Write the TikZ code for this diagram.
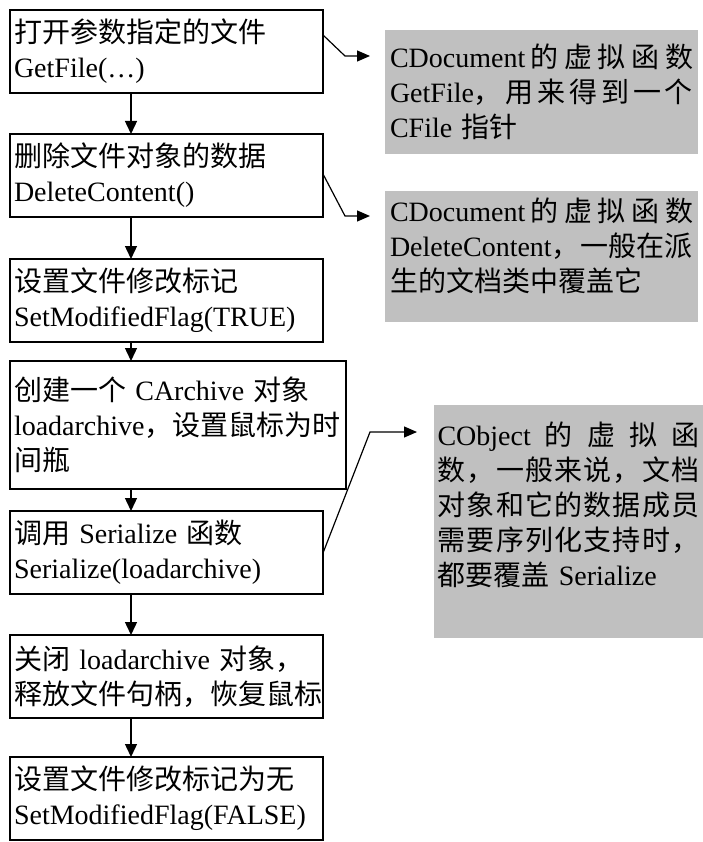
\documentclass[tikz,border=0pt]{standalone}
\usepackage{fontspec}
\setmainfont{Liberation Serif}
\newfontfamily\cjk{Noto Sans CJK SC}
\usepackage{tikz}
\usetikzlibrary{arrows.meta}
\usetikzlibrary{positioning}
\definecolor{notegray}{RGB}{192,192,192}
\tikzstyle{block} = [draw, line width=1.6pt,
	outer sep=0pt,
	minimum width=313pt,
	minimum height=83pt,
	text width=305pt,
	inner xsep=3pt,
	align=left]
\tikzstyle{note} = [fill=notegray,
	anchor=north west,
	outer sep=0pt,
	inner xsep=4pt,
	align=left]
\tikzstyle{arrow} = [-{Triangle[length=13pt,width=12pt]}, line width=1.4pt]
\tikzstyle{link} = [-{Triangle[length=13pt,width=11pt]}, line width=1.2pt]
\newcommand{\zh}[1]{{\cjk #1}}
\newcommand{\spreadline}[2]{\makebox[#1][s]{#2}}

\begin{document}
\begin{tikzpicture}[x=1pt, y=1pt, font=\fontsize{28}{35}\selectfont]
	\useasboundingbox (0,0) rectangle (703,-842);
	% left column
	\node (open) [block, anchor=north west] at (10,-10) {\zh{打开参数指定的文件}\\GetFile(…)};
	\node (delete) [block, below=41pt of open.south west, anchor=north west] {\zh{删除文件对象的数据}\\DeleteContent()};
	\node (setflag) [block, below=42pt of delete.south west, anchor=north west] {\zh{设置文件修改标记}\\SetModifiedFlag(TRUE)};
	\node (archive) [block, below=19pt of setflag.south west, anchor=north west,
		minimum width=336pt, minimum height=128pt, text width=328pt]
		{\zh{创建一个} CArchive \zh{对象}\\loadarchive\zh{，设置鼠标为时}\\\zh{间瓶}};
	\node (serial) [block, below=22pt of archive.south west, anchor=north west] {\zh{调用} Serialize \zh{函数}\\Serialize(loadarchive)};
	\node (close) [block, below=41pt of serial.south west, anchor=north west] {\zh{关闭} loadarchive \zh{对象，}\\\zh{释放文件句柄，恢复鼠标}};
	\node (clearflag) [block, below=39pt of close.south west, anchor=north west] {\zh{设置文件修改标记为无}\\SetModifiedFlag(FALSE)};
	
	\draw [arrow] ([xshift=121pt]open.south west) -- ([xshift=121pt]delete.north west);
	\draw [arrow] ([xshift=121pt]delete.south west) -- ([xshift=121pt]setflag.north west);
	\draw [arrow] ([xshift=121pt]setflag.south west) -- ([xshift=121pt]archive.north west);
	\draw [arrow] ([xshift=121pt]archive.south west) -- ([xshift=121pt]serial.north west);
	\draw [arrow] ([xshift=121pt]serial.south west) -- ([xshift=121pt]close.north west);
	\draw [arrow] ([xshift=121pt]close.south west) -- ([xshift=121pt]clearflag.north west);
	
	% notes on the right
	\node (getnote) [note, minimum width=313pt, minimum height=124pt, text width=303pt] at (385,-30)
		{\spreadline{303pt}{CDocument\hfil\zh{的\hfil 虚\hfil 拟\hfil 函\hfil 数}}\\
		\spreadline{303pt}{GetFile\zh{，\hfil 用\hfil 来\hfil 得\hfil 到\hfil 一\hfil 个}}\\
		CFile \zh{指针}};
	\node (delnote) [note, minimum width=313pt, minimum height=131pt, text width=303pt] at (385,-191)
		{\spreadline{303pt}{CDocument\hfil\zh{的\hfil 虚\hfil 拟\hfil 函\hfil 数}}\\
		\spreadline{303pt}{DeleteContent\zh{，\hfil 一\hfil 般\hfil 在\hfil 派}}\\
		\zh{生的文档类中覆盖它}\\[-12pt]\mbox{}};
	\node (objnote) [note, minimum width=269pt, minimum height=233pt, text width=262pt, inner xsep=3pt] at (434,-405)
		{\spreadline{262pt}{CObject\hfil\zh{的\hfil 虚\hfil 拟\hfil 函}}\\
		\spreadline{262pt}{\zh{数\hfil ，\hfil 一\hfil 般\hfil 来\hfil 说\hfil ，\hfil 文\hfil 档}}\\
		\spreadline{262pt}{\zh{对\hfil 象\hfil 和\hfil 它\hfil 的\hfil 数\hfil 据\hfil 成\hfil 员}}\\
		\spreadline{262pt}{\zh{需\hfil 要\hfil 序\hfil 列\hfil 化\hfil 支\hfil 持\hfil 时\hfil ，}}\\
		\zh{都要覆盖} Serialize\\ \mbox{}};
	
	\draw [link] ([yshift=-25pt]open.north east) -- ++(22pt,-21pt) coordinate (k1) -- ([xshift=-15pt]getnote.west |- k1);
	\draw [link] ([yshift=-40pt]delete.north east) -- ++(22pt,-42pt) coordinate (k2) -- ([xshift=-15pt]delnote.west |- k2);
	\draw [link] ([yshift=-42pt]serial.north east) -- ++(47pt,121pt) coordinate (k3) -- ([xshift=-17pt]objnote.west |- k3);
\end{tikzpicture}
\end{document}
